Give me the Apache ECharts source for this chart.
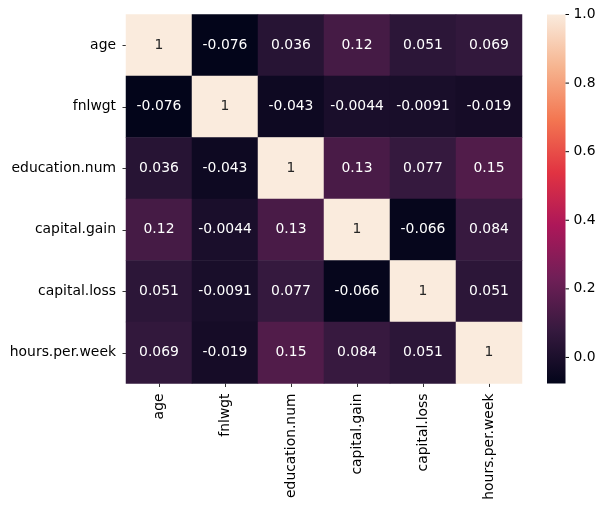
<!DOCTYPE html>
<html>
<head>
<meta charset="utf-8">
<script src="https://cdn.jsdelivr.net/npm/echarts@6/dist/echarts.min.js"></script>
<style>
html,body{margin:0;padding:0;background:#fff;}
#chart{width:607px;height:510px;}
</style>
</head>
<body>
<div id="chart"></div>
<script>
var labels = ['age', 'fnlwgt', 'education.num', 'capital.gain', 'capital.loss', 'hours.per.week'];
var rowAge = [1, -0.076, 0.036, 0.12, 0.051, 0.069];
var rowFnlwgt = [-0.076, 1, -0.043, -0.0044, -0.0091, -0.019];
var rowEducation = [0.036, -0.043, 1, 0.13, 0.077, 0.15];
var rowCapGain = [0.12, -0.0044, 0.13, 1, -0.066, 0.084];
var rowCapLoss = [0.051, -0.0091, 0.077, -0.066, 1, 0.051];
var rowHours = [0.069, -0.019, 0.15, 0.084, 0.051, 1];
var colorbarTicks = [0, 0.2, 0.4, 0.6, 0.8, 1.0];
var vmin = -0.076, vmax = 1;

var rows = [rowAge, rowFnlwgt, rowEducation, rowCapGain, rowCapLoss, rowHours];
var rocket = ['#03051a', '#35193e', '#701f57', '#ad1759', '#e13342', '#f37651', '#f6b48f', '#faebdd'];
var data = [];
rows.forEach(function (r, yi) {
  r.forEach(function (v, xi) {
    var t = (v - vmin) / (vmax - vmin);
    data.push({value: [xi, yi, v], label: {color: t > 0.6 ? '#262626' : '#ffffff'}});
  });
});
var FONT = 'DejaVu Sans';
var FS = 13.9;
var CB = {left: 547, top: 14.5, width: 18.5, height: 369};

var chart = echarts.init(document.getElementById('chart'), null, {renderer: 'canvas'});
chart.setOption({
  animation: false,
  backgroundColor: '#fff',
  textStyle: {fontFamily: FONT},
  grid: [
    {left: 126, top: 14.5, width: 396, height: 369},
    {left: CB.left, top: CB.top, width: CB.width, height: CB.height}
  ],
  xAxis: [
    {
      type: 'category', data: labels, gridIndex: 0, position: 'bottom',
      axisLine: {show: false},
      axisTick: {show: true, alignWithLabel: true, length: 3.5, lineStyle: {color: '#000', width: 0.8}},
      axisLabel: {rotate: 90, margin: 10, color: '#000', fontSize: FS, fontFamily: FONT},
      splitLine: {show: false}
    },
    {
      type: 'value', gridIndex: 1, show: false, min: 0, max: 1,
      axisLine: {show: false}, axisTick: {show: false}, axisLabel: {show: false}, splitLine: {show: false}
    }
  ],
  yAxis: [
    {
      type: 'category', data: labels, gridIndex: 0, inverse: true,
      axisLine: {show: false},
      axisTick: {show: true, alignWithLabel: true, length: 3.5, lineStyle: {color: '#000', width: 0.8}},
      axisLabel: {margin: 10, color: '#000', fontSize: FS, fontFamily: FONT},
      splitLine: {show: false}
    },
    {
      type: 'value', gridIndex: 1, position: 'right', min: vmin, max: vmax,
      axisLine: {show: false},
      splitLine: {show: false},
      axisTick: {show: false},
      axisLabel: {show: true, customValues: colorbarTicks, margin: 8, color: '#000', fontSize: FS, fontFamily: FONT,
        formatter: function (v) { return Number(v).toFixed(1); }}
    }
  ],
  visualMap: {
    type: 'continuous', min: vmin, max: vmax, show: false, seriesIndex: 0,
    inRange: {color: rocket}
  },
  series: [{
    type: 'heatmap', xAxisIndex: 0, yAxisIndex: 0, data: data,
    label: {
      show: true, fontSize: FS, fontFamily: FONT,
      formatter: function (p) { return String(p.value[2]); }
    },
    itemStyle: {borderWidth: 0},
    emphasis: {disabled: true}
  }]
});
// colorbar and its tick marks
var els = [{
  type: 'rect', id: 'cbar', z: 0, silent: true,
  shape: {x: CB.left, y: CB.top, width: CB.width, height: CB.height},
  style: {fill: new echarts.graphic.LinearGradient(0, 1, 0, 0,
    rocket.map(function (c, i) { return {offset: i / (rocket.length - 1), color: c}; }))}
}];
colorbarTicks.forEach(function (v, i) {
  var y = NaN;
  try {
    var p = chart.convertToPixel({gridIndex: 1}, [1, v]);
    if (p && isFinite(p[1])) y = p[1];
  } catch (e) {}
  if (!isFinite(y)) y = CB.top + CB.height * (vmax - v) / (vmax - vmin);
  els.push({
    type: 'rect', id: 'cbt' + i, z: 100, zlevel: 0, silent: true,
    shape: {x: CB.left + CB.width, y: y - 0.5, width: 3.5, height: 1},
    style: {fill: '#000000', stroke: null}
  });
});
chart.setOption({graphic: {elements: els}});
</script>
</body>
</html>
